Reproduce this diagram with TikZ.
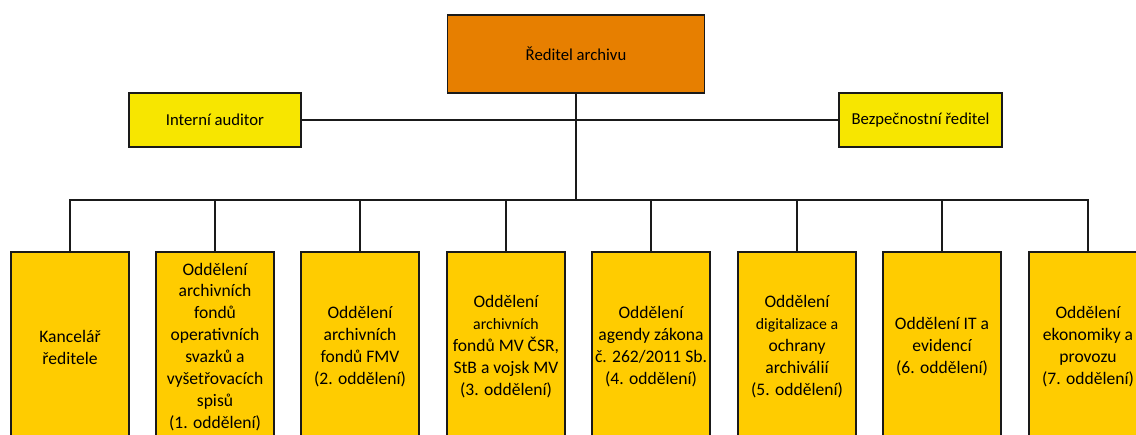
\documentclass[tikz,border=0pt]{standalone}
\usepackage{fontspec}
\setmainfont{Carlito}
\usepackage{xcolor}
\definecolor{dirorange}{HTML}{E77F00}
\definecolor{staffyellow}{HTML}{F7E600}
\definecolor{deptgold}{HTML}{FFCC00}
\definecolor{lineblack}{HTML}{1A1A1A}

\begin{document}
\begin{tikzpicture}[x=0.02cm,y=-0.02cm,
    dirbox/.style={draw=lineblack,line width=1.1pt,fill=dirorange,minimum width=5.14cm,minimum height=1.56cm,font=\fontsize{9.5}{12}\selectfont},
    staffbox/.style={draw=lineblack,line width=1.1pt,fill=staffyellow,minimum height=1.08cm,font=\fontsize{9.5}{12}\selectfont},
    deptbox/.style={draw=lineblack,line width=1.1pt,fill=deptgold,minimum width=2.36cm,minimum height=3.8cm,inner xsep=0pt,align=center,font=\fontsize{10}{12.5}\selectfont},
    link/.style={draw=lineblack,line width=1.6pt}]
    \clip (0,0) rectangle (1136,434);
    \fill[white] (0,0) rectangle (1136,434);

    \node[dirbox] (dir) at (576,54) {Ředitel archivu};
    \node[staffbox,minimum width=3.44cm] (aud) at (215,120) {Interní auditor};
    \node[staffbox,minimum width=3.26cm] (bez) at (920.5,120) {Bezpečnostní ředitel};

    \node[deptbox] (d1) at (70,347) {Kancelář\\ředitele};
    \node[deptbox] (d2) at (215,347) {Oddělení\\archivních\\fondů\\operativních\\svazků a\\vyšetřovacích\\spisů\\(1. oddělení)};
    \node[deptbox] (d3) at (360,347) {Oddělení\\archivních\\fondů FMV\\(2. oddělení)};
    \node[deptbox] (d4) at (506,347) {Oddělení\\{\small archivních}\\fondů MV ČSR,\\StB a vojsk MV\\(3. oddělení)};
    \node[deptbox] (d5) at (651,347) {Oddělení\\agendy zákona\\č. 262/2011 Sb.\\(4. oddělení)};
    \node[deptbox] (d6) at (797,347) {Oddělení\\{\small digitalizace a}\\ochrany\\archiválií\\(5. oddělení)};
    \node[deptbox] (d7) at (942,347) {Oddělení IT a\\evidencí\\(6. oddělení)};
    \node[deptbox] (d8) at (1088,347) {Oddělení\\ekonomiky a\\provozu\\(7. oddělení)};

    \coordinate (bus) at (578,200);

    % staff line and trunk
    \draw[link] (aud.east) -- (bez.west);
    \draw[link] (dir.south) -- (dir.south |- bus);
    % department bus
    \draw[link] (d1.north) |- (bus) -| (d8.north);
    \foreach \d in {d2,d3,d4,d5,d6,d7}
        \draw[link] (\d.north) -- (\d.north |- bus);
\end{tikzpicture}
\end{document}
